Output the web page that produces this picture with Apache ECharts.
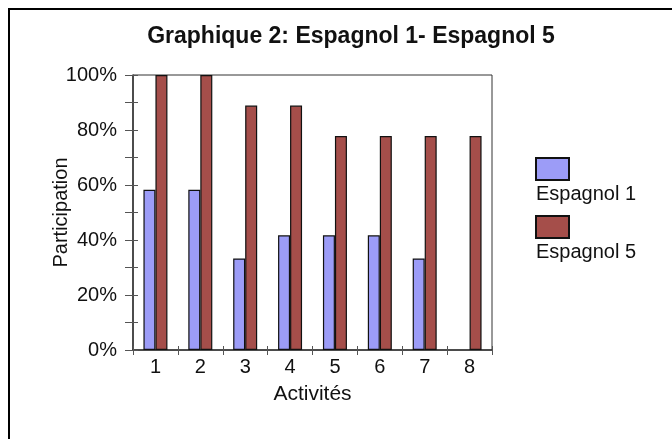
<!DOCTYPE html>
<html>
<head>
<meta charset="utf-8">
<title>Graphique 2</title>
<script src="https://cdn.jsdelivr.net/npm/echarts@6/dist/echarts.min.js"></script>
<style>
  html, body { margin: 0; padding: 0; background: #fff; }
  #chart { width: 672px; height: 439px; }
</style>
</head>
<body>
<div id="chart"></div>
<script>
// data
const activites = ['1', '2', '3', '4', '5', '6', '7', '8']
const espagnol1 = [58.3, 58.3, 33.3, 41.7, 41.7, 41.7, 33.3, null]
const espagnol5 = [100, 100, 88.9, 88.9, 77.8, 77.8, 77.8, 77.8]
const seriesNames = ['Espagnol 1', 'Espagnol 5']

const font = 'Liberation Sans, Arial, sans-serif'
const chart = echarts.init(document.getElementById('chart'))

chart.setOption({
  animation: false,
  textStyle: { fontFamily: font, color: '#111' },
  title: {
    text: 'Graphique 2: Espagnol 1- Espagnol 5',
    left: 346,
    textAlign: 'center',
    top: 20,
    textStyle: { fontFamily: font, fontSize: 23, fontWeight: 'bold', color: '#111' }
  },
  // outer frame (only top and left edges fall inside the picture)
  graphic: [{
    type: 'rect',
    shape: { x: 9, y: 9, width: 900, height: 900 },
    style: { fill: 'none', stroke: '#000', lineWidth: 2 },
    silent: true
  }],
  grid: {
    left: 133,
    top: 75,
    right: 180,
    bottom: 89,
    show: true,
    borderColor: '#333',
    borderWidth: 1
  },
  legend: [{
    // swatches only
    data: seriesNames,
    orient: 'vertical',
    left: 535,
    top: 157,
    padding: 0,
    icon: 'rect',
    itemWidth: 33,
    itemHeight: 22,
    itemGap: 34,
    formatter: () => ''
  }, {
    // labels under the swatches
    data: seriesNames,
    orient: 'vertical',
    left: 530,
    top: 184,
    padding: 0,
    icon: 'rect',
    itemWidth: 0,
    itemHeight: 0,
    itemGap: 38,
    textStyle: { fontFamily: font, fontSize: 20, color: '#111' }
  }],
  xAxis: [{
    type: 'category',
    data: activites,
    name: 'Activités',
    nameLocation: 'middle',
    nameGap: 34,
    nameMoveOverlap: false,
    nameTextStyle: { fontSize: 21, color: '#111' },
    axisLine: { lineStyle: { color: '#333', width: 1.5 } },
    axisTick: { show: true, length: 5, lineStyle: { color: '#555' } },
    axisLabel: { fontSize: 20, color: '#111', margin: 7 },
    splitLine: { show: false }
  }, {
    // inner half of the crossing ticks
    type: 'category',
    data: activites,
    position: 'bottom',
    axisLine: { show: false },
    axisTick: { show: true, inside: true, length: 4, lineStyle: { color: '#555' } },
    axisLabel: { show: false },
    splitLine: { show: false }
  }],
  yAxis: [{
    type: 'value',
    min: 0,
    max: 100,
    interval: 20,
    name: 'Participation',
    nameLocation: 'middle',
    nameGap: 62,
    nameMoveOverlap: false,
    nameTextStyle: { fontSize: 20, color: '#111' },
    axisLine: { show: true, lineStyle: { color: '#333', width: 1.5 } },
    axisTick: { show: true, length: 8, lineStyle: { color: '#555' } },
    minorTick: { show: true, splitNumber: 2, length: 8, lineStyle: { color: '#555' } },
    axisLabel: { fontSize: 20, color: '#111', margin: 16, formatter: '{value}%' },
    splitLine: { show: false }
  }, {
    // inner half of the crossing ticks
    type: 'value',
    position: 'left',
    min: 0,
    max: 100,
    interval: 20,
    axisLine: { show: false },
    axisTick: { show: true, inside: true, length: 5, lineStyle: { color: '#555' } },
    minorTick: { show: true, splitNumber: 2, length: 5, lineStyle: { color: '#555' } },
    axisLabel: { show: false },
    splitLine: { show: false }
  }],
  series: [{
    name: 'Espagnol 1',
    type: 'bar',
    data: espagnol1,
    barWidth: 12,
    barGap: '0%',
    itemStyle: { color: '#9c9cf7', borderColor: '#111', borderWidth: 1.2 }
  }, {
    name: 'Espagnol 5',
    type: 'bar',
    data: espagnol5,
    barWidth: 12,
    barGap: '0%',
    itemStyle: { color: '#a54e4a', borderColor: '#111', borderWidth: 1.2 }
  }]
})
</script>
</body>
</html>
